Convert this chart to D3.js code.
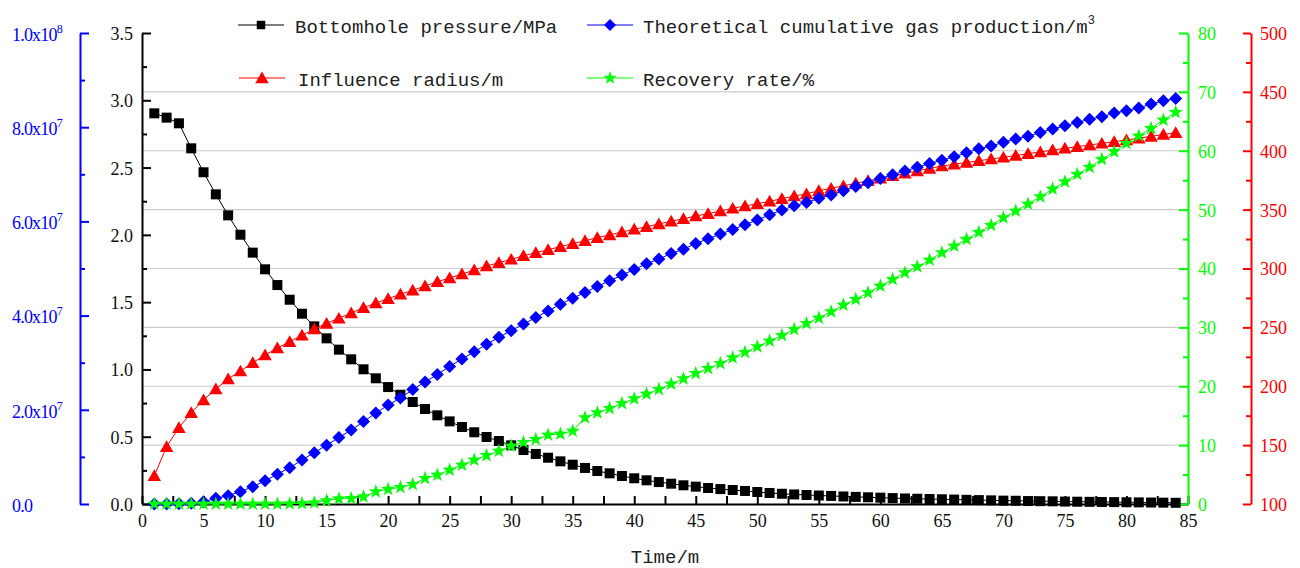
<!DOCTYPE html>
<html><head><meta charset="utf-8">
<script src="https://cdn.jsdelivr.net/npm/d3@7"></script>
<style>body{margin:0;background:#fff}svg{display:block}</style>
</head><body><svg id="c" width="1300" height="568"></svg>
<script>
// ---------------- data ----------------
const time = [1,2,3,4,5,6,7,8,9,10,11,12,13,14,15,16,17,18,19,20,21,22,23,24,25,26,27,28,29,30,
  31,32,33,34,35,36,37,38,39,40,41,42,43,44,45,46,47,48,49,50,51,52,53,54,55,56,57,58,59,60,
  61,62,63,64,65,66,67,68,69,70,71,72,73,74,75,76,77,78,79,80,81,82,83,84];

// Bottomhole pressure / MPa
const pressure = [2.903,2.871,2.829,2.643,2.465,2.301,2.145,2.001,1.868,1.744,1.627,1.518,1.414,1.320,1.231,
  1.147,1.075,1.001,0.934,0.869,0.812,0.758,0.706,0.659,0.614,0.572,0.533,0.498,0.468,0.436,
  0.401,0.372,0.344,0.317,0.292,0.268,0.245,0.228,0.208,0.191,0.176,0.163,0.151,0.139,0.129,
  0.119,0.111,0.104,0.097,0.089,0.082,0.076,0.071,0.067,0.063,0.060,0.056,0.053,0.050,0.047,
  0.044,0.041,0.039,0.037,0.035,0.033,0.031,0.029,0.027,0.025,0.024,0.022,0.021,0.020,0.018,
  0.017,0.016,0.015,0.014,0.013,0.012,0.011,0.010,0.009];

// Theoretical cumulative gas production / m3
const gasProduction = [0,0.02e6,0.05e6,0.15e6,0.49e6,1.2e6,1.77e6,2.62e6,3.68e6,4.95e6,6.3e6,7.71e6,9.34e6,10.9e6,12.5e6,
  14.1e6,15.7e6,17.5e6,19.3e6,21.0e6,22.5e6,24.3e6,25.9e6,27.5e6,29.2e6,30.8e6,32.3e6,33.9e6,35.4e6,36.8e6,
  38.2e6,39.6e6,41.0e6,42.4e6,43.7e6,44.9e6,46.2e6,47.4e6,48.6e6,49.8e6,51.0e6,52.0e6,53.2e6,54.1e6,55.3e6,
  56.3e6,57.3e6,58.3e6,59.3e6,60.3e6,61.4e6,62.4e6,63.3e6,64.0e6,64.9e6,65.6e6,66.5e6,67.4e6,68.2e6,69.1e6,
  69.9e6,70.7e6,71.5e6,72.3e6,73.0e6,73.7e6,74.6e6,75.4e6,76.0e6,76.8e6,77.5e6,78.1e6,78.9e6,79.6e6,80.3e6,
  81.0e6,81.7e6,82.2e6,83.0e6,83.5e6,84.1e6,84.9e6,85.6e6,86.1e6];

// Influence radius / m
const radius = [124.0,148.7,164.8,177.5,188.3,197.7,206.2,212.9,220.0,226.5,232.5,237.8,243.3,248.6,253.4,
  257.7,262.2,266.7,270.7,274.4,278.1,281.5,285.1,288.8,291.9,295.3,298.7,302.1,304.9,307.8,
  310.9,313.4,316.0,318.5,321.1,323.6,326.2,328.5,331.0,333.3,335.5,337.8,340.1,342.3,344.6,
  346.5,348.8,351.1,353.1,355.0,357.1,359.3,361.6,363.3,366.1,368.1,370.2,372.4,374.5,376.6,
  378.7,380.8,382.9,385.0,387.0,388.5,390.0,391.5,393.0,394.4,396.0,397.5,399.0,400.6,402.1,
  403.5,404.9,406.3,407.7,409.1,410.7,412.2,413.8,415.3];

// Recovery rate / %
const recovery = [0,0,0,0,0,0,0,0,0,0,0,0.05,0.1,0.22,0.56,
  0.9,0.95,1.24,2.1,2.5,2.83,3.34,4.36,4.93,5.78,6.62,7.47,8.25,9.0,9.85,
  10.47,10.98,11.72,11.89,12.4,14.66,15.51,16.25,17.1,17.89,18.68,19.48,20.38,21.29,22.19,
  23.04,23.89,24.85,25.76,26.72,27.69,28.65,29.67,30.69,31.6,32.67,33.8,34.77,35.9,37.03,
  38.16,39.29,40.31,41.44,42.69,43.82,44.96,46.15,47.34,48.63,49.77,50.96,52.2,53.5,54.74,
  56.0,57.19,58.55,59.84,61.26,62.5,63.81,65.22,66.53];

const xTicks = [0,5,10,15,20,25,30,35,40,45,50,55,60,65,70,75,80,85];
const pressureTicks = [0,0.5,1.0,1.5,2.0,2.5,3.0,3.5];
const gasTicks = [0,2e7,4e7,6e7,8e7,1e8];
const recoveryTicks = [0,10,20,30,40,50,60,70,80];
const radiusTicks = [100,150,200,250,300,350,400,450,500];

const legendLabels = ["Bottomhole pressure/MPa","Theoretical cumulative gas production/m","Influence radius/m","Recovery rate/%"];
const xTitle = "Time/m";

// ---------------- drawing ----------------
const svg = d3.select("#c");
const BLUE="#0000ff", RED="#ff0000", GREEN="#00ff00", BLACK="#000000";
const numFont = "'Liberation Serif','Times New Roman',serif";
const monoFont = "'Liberation Mono','DejaVu Sans Mono',monospace";

const x = d3.scaleLinear().domain([0,85]).range([142,1188]);
const yP = d3.scaleLinear().domain([0,3.5]).range([504,33]);
const yG = d3.scaleLinear().domain([0,1e8]).range([504,33]);
const yRec = d3.scaleLinear().domain([0,80]).range([504,33]);
const yRad = d3.scaleLinear().domain([100,500]).range([504,33]);

// gridlines
svg.append("g").selectAll("line").data(recoveryTicks.filter(v=>v>0&&v<80)).join("line")
  .attr("x1",x(0)).attr("x2",x(85)).attr("y1",d=>yRec(d)).attr("y2",d=>yRec(d))
  .attr("stroke","#cccccc").attr("stroke-width",1.2);

function styleAxis(g,color,fontSize){
  g.select(".domain").attr("stroke",color).attr("stroke-width",2);
  g.selectAll(".tick line").attr("stroke",color).attr("stroke-width",2);
  g.selectAll(".tick text").attr("fill",color).style("font-family",numFont).style("font-size",fontSize+"px");
}
function minorAxis(axisFn,scale,ticks,size,tx,ty,color){
  const g = svg.append("g").attr("transform",`translate(${tx},${ty})`)
    .call(axisFn(scale).tickValues(ticks).tickSizeInner(size).tickSizeOuter(0).tickFormat(""));
  g.select(".domain").remove();
  g.selectAll(".tick line").attr("stroke",color).attr("stroke-width",2);
}
function halfSteps(t){ const r=[]; for(let i=0;i<t.length-1;i++) r.push((t[i]+t[i+1])/2); return r; }

// x axis
const gx = svg.append("g").attr("transform","translate(0,504)")
  .call(d3.axisBottom(x).tickValues(xTicks).tickSizeInner(-8).tickSizeOuter(0).tickPadding(10).tickFormat(d3.format("d")));
styleAxis(gx,BLACK,18);
gx.selectAll(".tick text").attr("fill","#111");
minorAxis(d3.axisBottom,x,halfSteps(xTicks),-8,0,504,BLACK);

// pressure axis (black)
const gp = svg.append("g").attr("transform","translate(142,0)")
  .call(d3.axisLeft(yP).tickValues(pressureTicks).tickSizeInner(-9).tickSizeOuter(0).tickPadding(9).tickFormat(d3.format(".1f")));
styleAxis(gp,BLACK,18);
gp.selectAll(".tick text").attr("fill","#111").attr("dy","0.36em");
minorAxis(d3.axisLeft,yP,halfSteps(pressureTicks),-5,142,0,BLACK);

// gas axis (blue)
const gg = svg.append("g").attr("transform","translate(80,0)")
  .call(d3.axisLeft(yG).tickValues(gasTicks).tickSizeInner(-9).tickSizeOuter(0).tickFormat(""));
styleAxis(gg,BLUE,18);
gg.selectAll(".tick").each(function(d){
  const t = d3.select(this).append("text").attr("x",-68).attr("y",0).attr("dy","0.4em")
    .attr("text-anchor","start").attr("fill",BLUE)
    .style("font-family",numFont).style("font-size","18px").style("letter-spacing","-0.8px");
  if(d===0){ t.text("0.0"); return; }
  const e = Math.floor(Math.log10(d)+1e-9), m = d/Math.pow(10,e);
  t.append("tspan").text(m.toFixed(1)+"x10");
  t.append("tspan").attr("dy","-8").style("font-size","12px").text(e);
});
minorAxis(d3.axisLeft,yG,halfSteps(gasTicks),-5,80,0,BLUE);

// recovery axis (green)
const gr = svg.append("g").attr("transform","translate(1188,0)")
  .call(d3.axisRight(yRec).tickValues(recoveryTicks).tickSizeInner(-9).tickSizeOuter(0).tickPadding(10).tickFormat(d3.format("d")));
styleAxis(gr,GREEN,18);
gr.selectAll(".tick text").attr("dy","0.36em");
minorAxis(d3.axisRight,yRec,halfSteps(recoveryTicks),-5,1188,0,GREEN);

// radius axis (red)
const gd = svg.append("g").attr("transform","translate(1251,0)")
  .call(d3.axisRight(yRad).tickValues(radiusTicks).tickSizeInner(-8).tickSizeOuter(0).tickPadding(9).tickFormat(d3.format("d")));
styleAxis(gd,RED,18);
gd.selectAll(".tick text").attr("dy","0.36em");
minorAxis(d3.axisRight,yRad,halfSteps(radiusTicks),-5,1251,0,RED);

// marker shapes
const shapes = {
  square: s => `M${-s/2},${-s/2}h${s}v${s}h${-s}Z`,
  diamond: s => `M0,${-s}L${s},0L0,${s}L${-s},0Z`,
  triangle: s => { const h=s*Math.sqrt(3)/2; return `M0,${-h*0.55}L${s/2},${h*0.45}L${-s/2},${h*0.45}Z`; },
  star: s => { let p=""; for(let i=0;i<10;i++){ const r=i%2?s*0.4:s; const a=-Math.PI/2+i*Math.PI/5; p+=(i?"L":"M")+(r*Math.cos(a)).toFixed(2)+","+(r*Math.sin(a)).toFixed(2);} return p+"Z"; }
};

const series = [
  {vals:pressure, y:yP, color:BLACK, shape:"square", size:10},
  {vals:radius, y:yRad, color:RED, shape:"triangle", size:13.5},
  {vals:gasProduction, y:yG, color:BLUE, shape:"diamond", size:6.5},
  {vals:recovery, y:yRec, color:GREEN, shape:"star", size:7.5}
];
series.forEach(s=>{
  const g = svg.append("g");
  const line = d3.line().x((d,i)=>x(time[i])).y(d=>s.y(d));
  g.append("path").datum(s.vals).attr("d",line).attr("fill","none").attr("stroke",s.color).attr("stroke-width",1);
  g.selectAll("path.m").data(s.vals).join("path").attr("class","m")
    .attr("transform",(d,i)=>`translate(${x(time[i])},${s.y(d)})`)
    .attr("d",shapes[s.shape](s.size)).attr("fill",s.color);
});

// legend
const legend = [
  {label:legendLabels[0], color:BLACK, shape:"square", size:8.5, lx:238, ly:25, tx:295, sup:false},
  {label:legendLabels[1], color:BLUE, shape:"diamond", size:6, lx:587, ly:25, tx:643, sup:true},
  {label:legendLabels[2], color:RED, shape:"triangle", size:13.5, lx:239, ly:78, tx:298, sup:false},
  {label:legendLabels[3], color:GREEN, shape:"star", size:7, lx:587, ly:78, tx:643, sup:false}
];
legend.forEach(l=>{
  const g = svg.append("g");
  g.append("line").attr("x1",l.lx).attr("x2",l.lx+46).attr("y1",l.ly).attr("y2",l.ly).attr("stroke",l.color).attr("stroke-width",1.2);
  g.append("path").attr("transform",`translate(${l.lx+23},${l.ly})`).attr("d",shapes[l.shape](l.size)).attr("fill",l.color);
  const t = g.append("text").attr("x",l.tx).attr("y",l.ly+8).attr("fill","#222")
    .style("font-family",monoFont).style("font-size","19px");
  t.append("tspan").text(l.label);
  if(l.sup) t.append("tspan").attr("dy","-9").style("font-size","12px").text("3");
});

// x title
svg.append("text").attr("x",(x(0)+x(85))/2).attr("y",563).attr("text-anchor","middle")
  .attr("fill","#222").style("font-family",monoFont).style("font-size","19px").text(xTitle);
</script></body></html>
